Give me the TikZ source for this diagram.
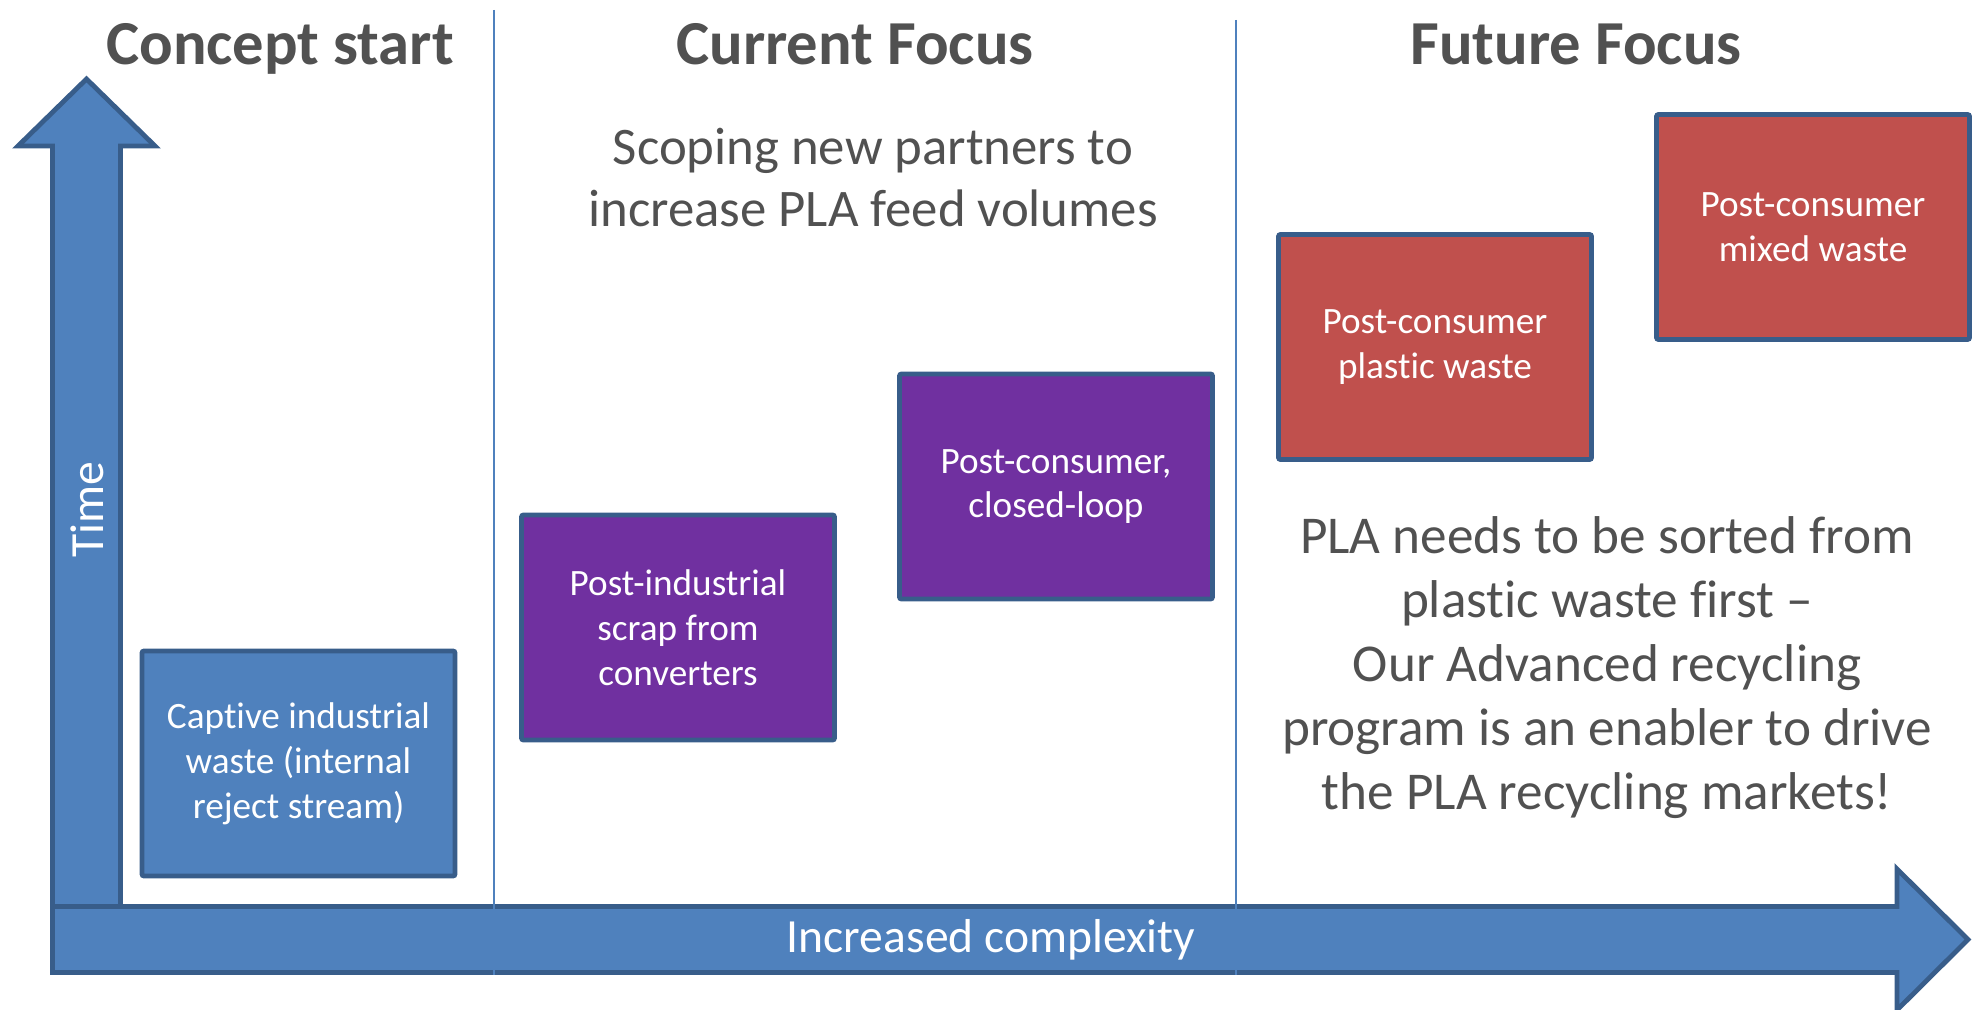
\documentclass[tikz,border=0pt]{standalone}
\usepackage{fontspec}
\setmainfont{Carlito}[Ligatures=TeX, RawFeature={-liga;-clig;-calt;-dlig}]
\definecolor{boxblue}{HTML}{4F81BD}
\definecolor{edgeblue}{HTML}{385D8A}
\definecolor{boxpurple}{HTML}{7030A0}
\definecolor{boxred}{HTML}{C0504D}
\definecolor{textgray}{HTML}{515151}
\begin{document}
\begin{tikzpicture}[x=0.5pt, y=-0.5pt,
    box/.style={draw=edgeblue, line width=2.4pt, rounded corners=1pt, text=white,
        align=center, minimum width=156.5pt, minimum height=112.5pt,
        font=\fontsize{18.6}{22.4}\selectfont},
    heading/.style={text=textgray, font=\fontsize{31.3}{37}\selectfont\bfseries},
    note/.style={text=textgray, align=center},
    axislabel/.style={text=white, font=\fontsize{23.8}{28}\selectfont},
    bigarrow/.style={fill=boxblue, draw=edgeblue, line width=2.4pt, line join=miter},
    divider/.style={boxblue, line width=0.75pt}]
    \useasboundingbox (0,0) rectangle (1979,1010);

    % axes
    \draw[bigarrow] (52.5,950) -- (52.5,146) -- (18,146) -- (86.5,79) -- (155,146)
        -- (120.5,146) -- (120.5,950) -- cycle;
    \draw[bigarrow] (52.5,906.5) -- (1897,906.5) -- (1897,869) -- (1968,939.5)
        -- (1897,1010) -- (1897,972.5) -- (52.5,972.5) -- cycle;
    \draw[divider] (494,10) -- (494,975);
    \draw[divider] (1236,20) -- (1236,975);

    \node[axislabel, rotate=90] (time) at (87,510) {Time};
    \node[axislabel] (cplx) at (991,940) {Increased complexity};

    \node[heading, anchor=base] (cs) at (280,65) {Concept start};
    \node[heading, anchor=base] (cf) at (855,65) {Current Focus};
    \node[heading, anchor=base] (ff) at (1576,65) {Future Focus};

    \node[box, fill=boxblue] (cap) at (298.5,763.5) {Captive industrial\\waste (internal\\reject stream)};
    \node[box, fill=boxpurple] (pin) at (678,627.5) {Post-industrial\\scrap from\\converters};
    \node[box, fill=boxpurple] (pcl) at (1056,486.5) {Post-consumer,\\closed-loop};
    \node[box, fill=boxred] (ppw) at (1435,347) {Post-consumer\\plastic waste};
    \node[box, fill=boxred] (pmw) at (1813,227) {Post-consumer\\mixed waste};

    \node[note, font=\fontsize{26.4}{31}\selectfont] (scope) at (873,178)
        {Scoping new partners to\\increase PLA feed volumes};
    \node[note, font=\fontsize{26.6}{32}\selectfont] (sort) at (1607,668)
        {PLA needs to be sorted from\\plastic waste first --\\Our Advanced recycling\\program is an enabler to drive\\the PLA recycling markets!};
\end{tikzpicture}
\end{document}
